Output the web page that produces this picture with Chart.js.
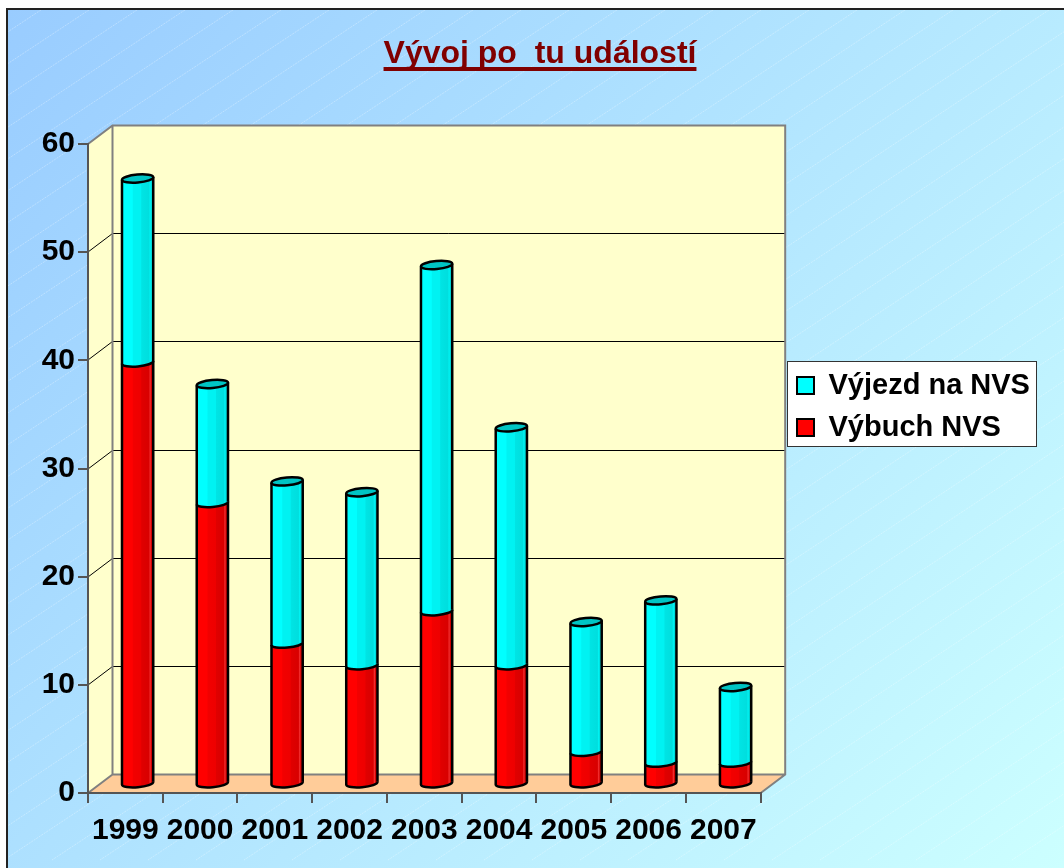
<!DOCTYPE html>
<html>
<head>
<meta charset="utf-8">
<title>Vývoj</title>
<script src="https://cdn.jsdelivr.net/npm/chart.js@4"></script>
<style>
  html, body { margin: 0; padding: 0; background: #fff; }
  canvas { display: block; }
</style>
</head>
<body>
<canvas id="myChart" width="1064" height="868"></canvas>
<script>
const years = ['1999', '2000', '2001', '2002', '2003', '2004', '2005', '2006', '2007'];
const vybuch = [39, 26, 13, 11, 16, 11, 3, 2, 2];
const vyjezd = [17, 11, 15, 16, 32, 22, 12, 15, 7];
const titleText = 'Vývoj po  tu událostí';

// how far the back wall sits behind the front plane
const depthX = 24.5;
const depthY = 18.5;
const fontFamily = '"Liberation Sans", Arial, sans-serif';
const tickFont = { family: fontFamily, size: 30, weight: 'bold' };
const legendFont = { family: fontFamily, size: 29, weight: 'bold' };
const titleFont = { family: fontFamily, size: 32, weight: 'bold' };

function drawBackground(chart) {
    const ctx = chart.ctx;
    const w = chart.width, h = chart.height;
    ctx.save();
    const g = ctx.createLinearGradient(7, 9, w, h);
    g.addColorStop(0, '#99ccff');
    g.addColorStop(1, '#ccffff');
    ctx.fillStyle = g;
    ctx.fillRect(6, 8, w, h);

    // faint hatch
    ctx.beginPath();
    ctx.rect(7, 9, w, h);
    ctx.clip();
    ctx.strokeStyle = 'rgba(255,255,255,0.3)';
    ctx.lineWidth = 1;
    ctx.setLineDash([2, 1]);
    for (let i = 0; i < 50; i++) {
        const x0 = i * 48 - 40;
        ctx.beginPath();
        ctx.moveTo(x0, 0);
        ctx.lineTo(x0 - 1300, 860);
        ctx.stroke();
    }
    ctx.restore();

    ctx.save();
    ctx.strokeStyle = '#222';
    ctx.lineWidth = 2;
    ctx.beginPath();
    ctx.moveTo(7, h);
    ctx.lineTo(7, 9);
    ctx.lineTo(w, 9);
    ctx.stroke();
    ctx.restore();
}

function drawWalls(chart) {
    const ctx = chart.ctx;
    const a = chart.chartArea;
    const y = chart.scales.y;
    const backL = a.left + depthX, backR = a.right + depthX;
    const backT = a.top - depthY, backB = a.bottom - depthY;

    ctx.save();
    ctx.fillStyle = '#ffffcc';
    ctx.fillRect(backL, backT, backR - backL, backB - backT);

    ctx.beginPath();
    ctx.moveTo(a.left, a.top);
    ctx.lineTo(backL, backT);
    ctx.lineTo(backL, backB);
    ctx.lineTo(a.left, a.bottom);
    ctx.closePath();
    ctx.fill();

    ctx.fillStyle = '#ffcc99';
    ctx.beginPath();
    ctx.moveTo(a.left, a.bottom);
    ctx.lineTo(backL, backB);
    ctx.lineTo(backR, backB);
    ctx.lineTo(a.right, a.bottom);
    ctx.closePath();
    ctx.fill();

    // grid lines run along the side wall and the back wall
    ctx.strokeStyle = '#000';
    ctx.lineWidth = 1;
    y.ticks.forEach(t => {
        if (t.value === y.min || t.value === y.max) return;
        const py = Math.round(y.getPixelForValue(t.value));
        ctx.beginPath();
        ctx.moveTo(a.left, py);
        ctx.lineTo(backL, py - depthY);
        ctx.lineTo(backR, py - depthY);
        ctx.stroke();
    });

    ctx.strokeStyle = '#808080';
    ctx.lineWidth = 2;
    ctx.beginPath();
    ctx.moveTo(a.left, a.top);
    ctx.lineTo(backL, backT);
    ctx.lineTo(backR, backT);
    ctx.lineTo(backR, backB);
    ctx.lineTo(a.right, a.bottom);
    ctx.moveTo(backL, backT);
    ctx.lineTo(backL, backB);
    ctx.lineTo(backR, backB);
    ctx.moveTo(backL, backB);
    ctx.lineTo(a.left, a.bottom);
    ctx.stroke();
    ctx.restore();
}

function drawLegendBox(chart) {
    const ctx = chart.ctx;
    ctx.save();
    ctx.fillStyle = '#fff';
    ctx.strokeStyle = '#333';
    ctx.lineWidth = 1;
    ctx.fillRect(787.5, 361.5, 249, 85);
    ctx.strokeRect(787.5, 361.5, 249, 85);
    ctx.restore();
}

function bodyGradient(ctx, x, w, stops) {
    const g = ctx.createLinearGradient(x - w / 2, 0, x + w / 2, 0);
    stops.forEach(s => g.addColorStop(s[0], s[1]));
    return g;
}

const cyanStops = [[0, '#00ffff'], [0.33, '#00ffff'], [0.36, '#00f2f2'], [0.6, '#00f2f2'], [0.63, '#00e4e4'], [0.86, '#00dede'], [0.9, '#00f4f4'], [0.94, '#00d8d8'], [1, '#00d0d0']];
const redStops = [[0, '#ff0000'], [0.33, '#ff0000'], [0.36, '#f20000'], [0.6, '#ee0000'], [0.63, '#e00000'], [0.86, '#d80000'], [0.9, '#f43030'], [0.94, '#d00000'], [1, '#c80000']];

// one stacked segment as a cylinder, sitting on the floor offset
function drawCylinder(ctx, bar, stops, capColor) {
    const cx = bar.x + depthX / 2;
    const top = bar.y - depthY / 2 + 0.5;
    const base = bar.base - depthY / 2 + 0.5;
    const rx = bar.width / 2;
    const ry = 4;
    const tilt = -0.09;

    ctx.beginPath();
    ctx.ellipse(cx, base, rx, ry, tilt, 0, Math.PI);
    ctx.ellipse(cx, top, rx, ry, tilt, Math.PI, Math.PI * 2);
    ctx.closePath();
    ctx.fillStyle = bodyGradient(ctx, cx, bar.width, stops);
    ctx.fill();

    ctx.strokeStyle = '#000';
    ctx.lineWidth = 2.5;
    ctx.lineJoin = 'round';
    ctx.beginPath();
    ctx.ellipse(cx, base, rx, ry, tilt, 0, Math.PI);
    ctx.lineTo(cx - rx * Math.cos(tilt), top - rx * Math.sin(tilt));
    ctx.moveTo(cx + rx * Math.cos(tilt), base + rx * Math.sin(tilt));
    ctx.lineTo(cx + rx * Math.cos(tilt), top + rx * Math.sin(tilt));
    ctx.stroke();

    if (capColor) {
        ctx.beginPath();
        ctx.ellipse(cx, top, rx, ry, tilt, 0, Math.PI * 2);
        ctx.fillStyle = capColor;
        ctx.fill();
        ctx.stroke();
    }
}

const scene3d = {
    id: 'scene3d',
    afterLayout(chart) {
        // legend box sits beside the floor, not where the layout puts it
        const lg = chart.legend;
        lg.update(400, 813, lg._margins);
        lg.left = 784;
        lg.right = 1037;
        lg.top = 0;
        lg.bottom = 813;
    },
    beforeDraw(chart) {
        drawBackground(chart);
        drawWalls(chart);
        drawLegendBox(chart);
    },
    beforeDatasetsDraw(chart) {
        const ctx = chart.ctx;
        ctx.save();
        chart.getDatasetMeta(0).data.forEach(bar => drawCylinder(ctx, bar, redStops, null));
        chart.getDatasetMeta(1).data.forEach(bar => drawCylinder(ctx, bar, cyanStops, '#00c4c4'));
        ctx.restore();
    },
    beforeDatasetDraw() {
        return false; // cylinders are already painted
    },
    afterDraw(chart) {
        // title underline
        const ctx = chart.ctx;
        const tb = chart.titleBlock;
        ctx.save();
        ctx.font = 'bold ' + titleFont.size + 'px ' + titleFont.family;
        const tw = ctx.measureText(titleText).width;
        const cx = (tb.left + tb.right) / 2;
        ctx.fillStyle = '#800000';
        ctx.fillRect(cx - tw / 2, 67, tw, 4);
        ctx.restore();
    }
};

const ctx = document.getElementById('myChart').getContext('2d');
const myChart = new Chart(ctx, {
    type: 'bar',
    data: {
        labels: years,
        datasets: [
            { label: 'Výbuch NVS', data: vybuch, backgroundColor: '#ff0000', borderColor: '#000', borderWidth: 2 },
            { label: 'Výjezd na NVS', data: vyjezd, backgroundColor: '#00ffff', borderColor: '#000', borderWidth: 2 }
        ]
    },
    plugins: [scene3d],
    options: {
        responsive: false,
        animation: false,
        devicePixelRatio: 1,
        categoryPercentage: 0.42,
        barPercentage: 1,
        layout: { autoPadding: false, padding: { left: 30, right: 14, top: 0, bottom: 0 } },
        plugins: {
            tooltip: { enabled: false },
            title: {
                display: true,
                text: titleText,
                color: '#800000',
                font: titleFont,
                padding: { top: 34.8, bottom: 70.8 }
            },
            legend: {
                position: 'right',
                reverse: true,
                labels: {
                    color: '#000',
                    font: legendFont,
                    boxWidth: 17,
                    boxHeight: 17,
                    padding: 13
                }
            }
        },
        scales: {
            x: {
                stacked: true,
                afterFit(s) { s.height = 75; },
                border: { color: '#555', width: 2 },
                grid: { drawOnChartArea: false, tickColor: '#555', tickLength: 10, lineWidth: 2, offset: true },
                ticks: { color: '#000', font: tickFont, padding: 10, maxRotation: 0, autoSkip: false }
            },
            y: {
                stacked: true,
                min: 0,
                max: 60,
                afterFit(s) { s.width = 58; },
                border: { color: '#555', width: 2 },
                grid: { drawOnChartArea: false, tickColor: '#555', tickLength: 10, lineWidth: 2 },
                ticks: { color: '#000', font: tickFont, stepSize: 10, padding: 3 }
            },
            // empty axis, only keeps the chart area clear of the legend
            gap: {
                position: 'right',
                afterFit(s) { s.width = 119.3; },
                border: { display: false },
                grid: { display: false },
                ticks: { display: false }
            }
        }
    }
});
</script>
</body>
</html>
